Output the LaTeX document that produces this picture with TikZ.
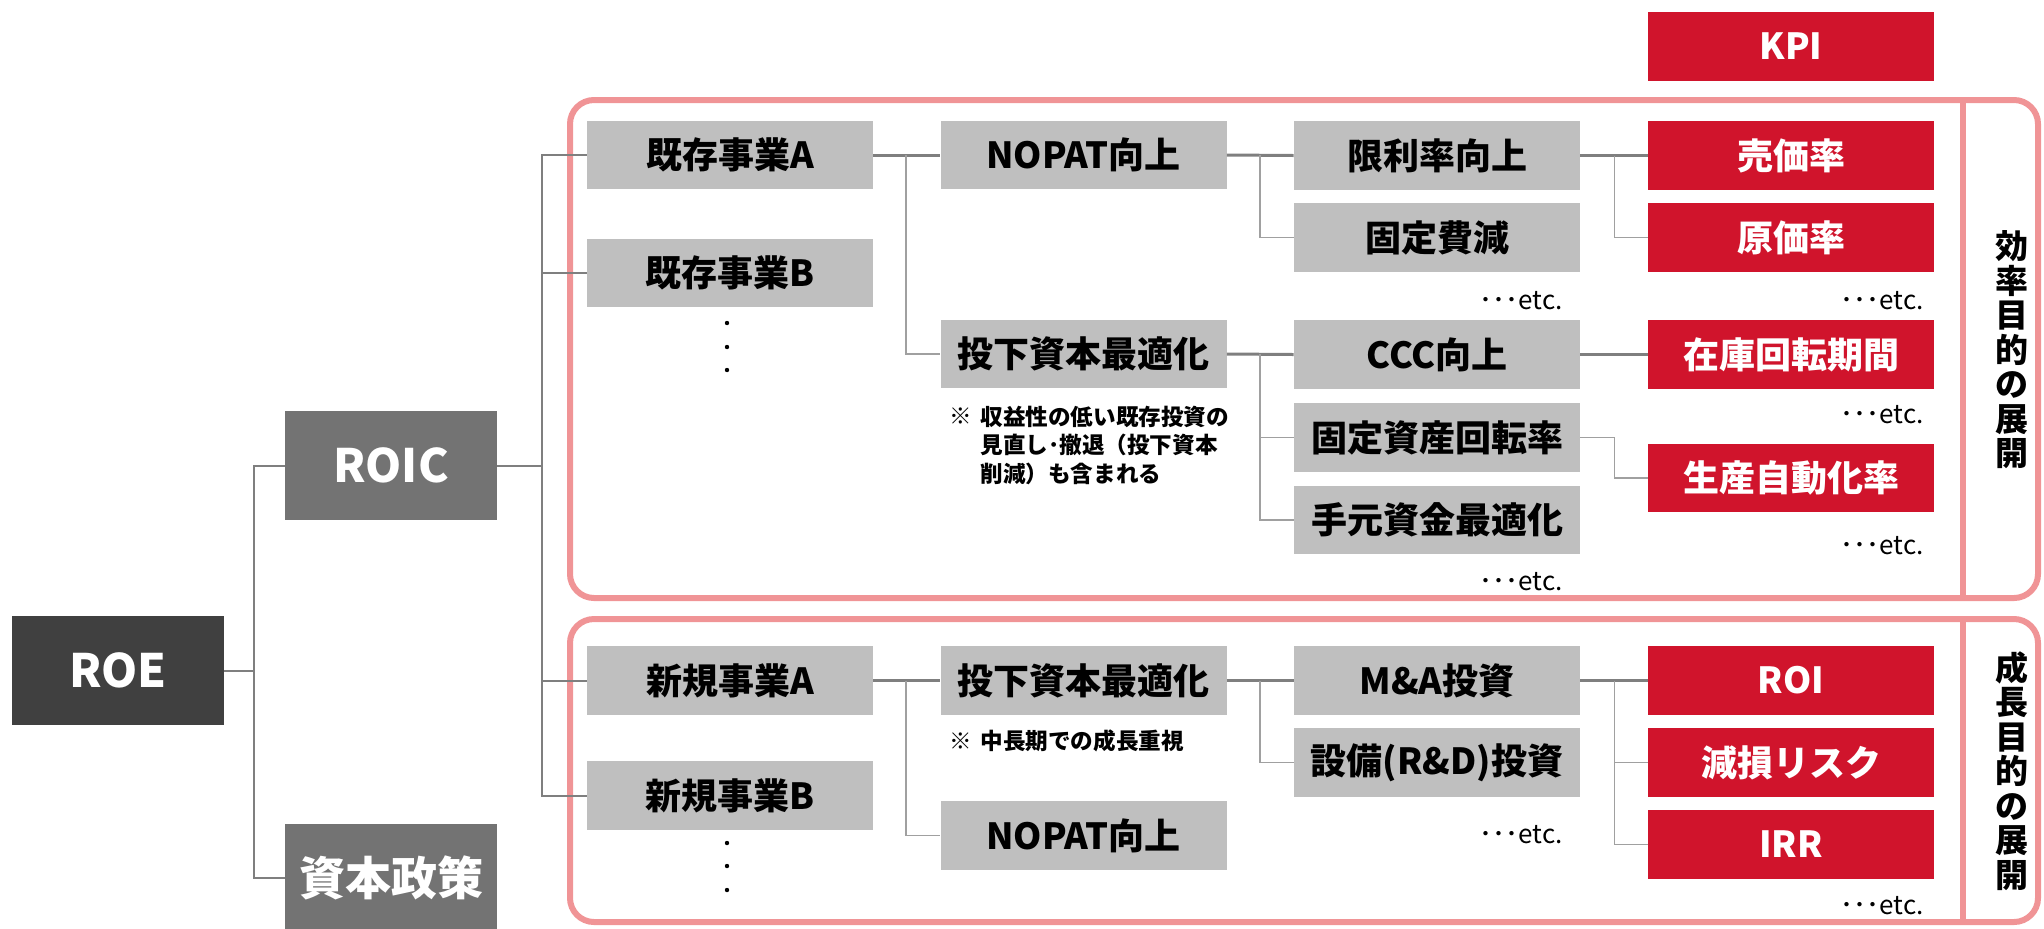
\documentclass[tikz,border=0pt]{standalone}
\usepackage{fontspec}
\setmainfont{Noto Sans CJK JP}
\definecolor{roeC}{HTML}{404040}
\definecolor{roicC}{HTML}{737373}
\definecolor{boxG}{HTML}{BFBFBF}
\definecolor{kpiR}{HTML}{D0142C}
\definecolor{pinkL}{HTML}{F09496}
\definecolor{lineG}{HTML}{7F7F7F}
\definecolor{lineL}{HTML}{A0A0A0}
\tikzset{
  dbox/.style={minimum width=106pt, minimum height=54.5pt, inner sep=0pt, text=white,
    font=\fontsize{23}{26}\selectfont\bfseries},
  box/.style={minimum width=143pt, minimum height=34.25pt, inner sep=0pt,
    font=\fontsize{18}{20}\selectfont\bfseries},
  gbox/.style={box, fill=boxG, text=black},
  rbox/.style={box, fill=kpiR, text=white},
  etcl/.style={anchor=east, inner sep=0pt, font=\fontsize{13}{15}\selectfont},
  notel/.style={anchor=west, inner sep=0pt, align=left, font=\fontsize{11.3}{14.25}\selectfont\bfseries},
  vtext/.style={inner sep=0pt, align=center, font=\fontsize{16.5}{17.25}\selectfont\bfseries},
  frame/.style={draw=pinkL, line width=3pt, rounded corners=12pt},
  divl/.style={draw=pinkL, line width=3pt},
  ln/.style={draw=lineG, line width=1pt},
  mainln/.style={draw=lineG, line width=1.5pt},
  subln/.style={draw=lineL, line width=0.8pt},
}
\begin{document}
\begin{tikzpicture}[x=0.5pt,y=-0.5pt]
\useasboundingbox (0,0) rectangle (2044,928);

% frames
\draw[frame] (570,100) rectangle (2038,598);
\draw[frame] (570,619) rectangle (2038,922);
\draw[divl] (1963,100) -- (1963,598);
\draw[divl] (1963,619) -- (1963,922);

% bus coordinates
\coordinate (b0) at (254,0);
\coordinate (b1) at (541.5,0);
\coordinate (b2) at (906,0);
\coordinate (b3) at (1260,0);
\coordinate (b4) at (1614.5,0);

% level 0/1
\node[dbox, fill=roeC] (roe) at (118,670.5) {ROE};
\node[dbox, fill=roicC] (roic) at (391,465.5) {ROIC};
\node[dbox, fill=roicC] (capital) at (391,878) {資本政策};

% column 1
\node[gbox] (ka) at (730,155) {既存事業A};
\node[gbox] (kb) at (730,273) {既存事業B};
\node[gbox] (na) at (730,680.5) {新規事業A};
\node[gbox] (nb) at (730,795.5) {新規事業B};

% column 2
\node[gbox] (nop1) at (1083.5,155) {NOPAT向上};
\node[gbox] (tk1) at (1083.5,354) {投下資本最適化};
\node[gbox] (tk2) at (1083.5,680.5) {投下資本最適化};
\node[gbox] (nop2) at (1083.5,835.5) {NOPAT向上};

% column 3
\node[gbox] (genri) at (1437,155.5) {限利率向上};
\node[gbox] (kotei) at (1437,237.5) {固定費減};
\node[gbox] (ccc) at (1437,354.5) {CCC向上};
\node[gbox] (fa) at (1437,437.5) {固定資産回転率};
\node[gbox] (temoto) at (1437,520) {手元資金最適化};
\node[gbox] (ma) at (1437,680.5) {M\&A投資};
\node[gbox] (setsubi) at (1437,762.5) {設備(R\&D)投資};

% column 4 (KPI)
\node[rbox] (kpi) at (1791,46.5) {KPI};
\node[rbox] (baika) at (1791,155.5) {売価率};
\node[rbox] (genka) at (1791,237.5) {原価率};
\node[rbox] (zaiko) at (1791,354.5) {在庫回転期間};
\node[rbox] (seisan) at (1791,478) {生産自動化率};
\node[rbox] (roi) at (1791,680.5) {ROI};
\node[rbox] (genson) at (1791,762.5) {減損リスク};
\node[rbox] (irr) at (1791,844.5) {IRR};

% etc labels
\node[etcl] (e1) at (1563,301) {･･･etc.};
\node[etcl] (e2) at (1924,301) {･･･etc.};
\node[etcl] (e3) at (1924,415) {･･･etc.};
\node[etcl] (e4) at (1924,546) {･･･etc.};
\node[etcl] (e5) at (1563,582) {･･･etc.};
\node[etcl] (e6) at (1563,835) {･･･etc.};
\node[etcl] (e7) at (1924,906) {･･･etc.};

% notes
\node[notel] (m1) at (949,416) {※};
\node[notel] (n1) at (980,445) {収益性の低い既存投資の\\見直し･撤退（投下資本\\削減）も含まれる};
\node[notel] (m2) at (949,741) {※};
\node[notel] (n2) at (980,741) {中長期での成長重視};

% vertical labels
\node[vtext] (v1) at (2012,350) {効\\率\\目\\的\\の\\展\\開};
\node[vtext] (v2) at (2012,771) {成\\長\\目\\的\\の\\展\\開};

% dots
\foreach \y in {323,347,370,843,866,890} \fill (727,\y) circle (1.1pt);

% connectors level 0
\draw[ln] (roe.east) -- (roe.east -| b0);
\draw[ln] (roic.west) -| (capital.west -| b0) -- (capital.west);
% level 1
\draw[ln] (roic.east) -- (roic.east -| b1);
\draw[ln] (ka.west) -| (nb.west -| b1) -- (nb.west);
\draw[ln] (kb.west) -- (kb.west -| b1);
\draw[ln] (na.west) -- (na.west -| b1);
% level 2
\draw[mainln] (ka.east) -- (nop1.west);
\draw[subln] (ka.east -| b2) |- (tk1.west);
\draw[mainln] (na.east) -- (tk2.west);
\draw[subln] (na.east -| b2) |- (nop2.west);
% level 3
\draw[mainln] (nop1.east) -- (genri.west);
\draw[subln] (nop1.east -| b3) |- (kotei.west);
\draw[mainln] (tk1.east) -- (ccc.west);
\draw[subln] (tk1.east -| b3) |- (temoto.west);
\draw[subln] (fa.west) -- (fa.west -| b3);
\draw[mainln] (tk2.east) -- (ma.west);
\draw[subln] (tk2.east -| b3) |- (setsubi.west);
% level 4
\draw[mainln] (genri.east) -- (baika.west);
\draw[subln] (genri.east -| b4) |- (genka.west);
\draw[mainln] (ccc.east) -- (zaiko.west);
\draw[subln] (fa.east) -- (fa.east -| b4) |- (seisan.west);
\draw[mainln] (ma.east) -- (roi.west);
\draw[subln] (ma.east -| b4) |- (irr.west);
\draw[subln] (genson.west) -- (genson.west -| b4);
\end{tikzpicture}
\end{document}
